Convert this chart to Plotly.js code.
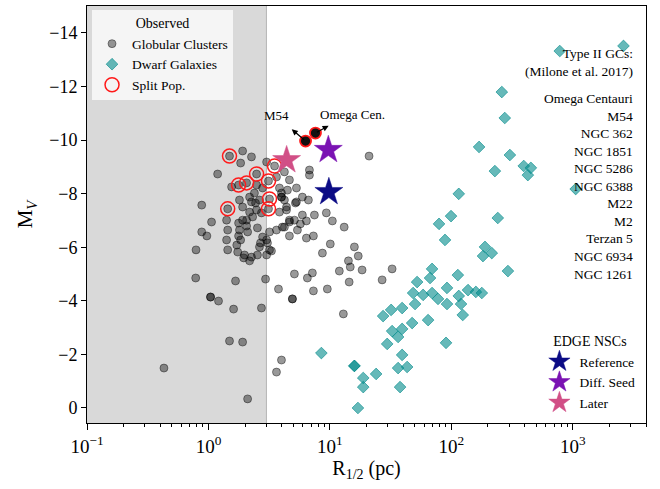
<!DOCTYPE html>
<html>
<head>
<meta charset="utf-8">
<script src="https://cdn.plot.ly/plotly-3.0.1.min.js"></script>
<style>html,body{margin:0;padding:0;background:#fff;}#chart{width:660px;height:489px;}</style>
</head>
<body>
<div id="chart"></div>
<script>
// Globular clusters (R_1/2 in pc, M_V)
const gcR = [1.49,1.91,2.26,1.84,3.01,3.50,1.19,2.49,2.06,1.77,1.55,3.12,3.18,3.12,1.44,0.88,4.22,3.63,2.49,2.79,
  2.39,2.18,2.26,2.44,2.63,1.80,1.91,2.18,2.49,2.73,2.31,2.06,1.91,1.77,1.41,1.06,2.06,2.53,1.80,1.44,
  2.10,0.88,0.97,1.77,1.84,2.79,3.01,3.18,3.63,4.22,4.64,5.10,3.84,4.39,4.22,3.99,4.47,5.30,5.30,3.84,
  4.64,5.40,0.79,1.44,1.74,1.98,2.26,2.53,3.01,3.18,2.63,1.71,1.41,2.68,3.06,3.30,1.95,2.18,0.785,1.67,
  2.95,1.04,1.04,1.21,1.61,2.73,1.49,1.91,0.43,2.10,3.77,3.99,3.63,21.0,6.78,6.78,3.99,3.99,5.93,6.65,
  5.20,4.39,9.34,7.45,5.93,4.64,6.40,5.71,10.47,13.1,4.06,4.64,6.40,7.31,10.07,15.9,8.67,17.1,14.2,14.7,
  18.4,11.95,32.5,5.10,7.17,6.52,14.4,26.9,7.31,9.52,4.91,4.91,12.9];
const gcM = [-9.40,-9.59,-9.37,-9.14,-9.18,-9.03,-8.73,-8.73,-8.40,-8.32,-8.25,-8.47,-7.80,-7.43,-7.43,-7.57,-8.81,-8.62,-8.32,-8.21,
  -8.02,-7.87,-7.69,-7.65,-7.76,-7.76,-7.50,-7.31,-7.39,-7.28,-7.13,-7.01,-7.01,-6.90,-7.01,-6.94,-6.79,-6.72,-6.64,-6.64,
  -6.57,-6.57,-6.42,-6.42,-6.27,-6.38,-6.27,-6.57,-6.64,-6.75,-6.94,-7.01,-7.31,-7.50,-7.76,-8.02,-8.13,-8.21,-7.69,-8.21,
  -8.51,-6.64,-5.90,-5.90,-5.82,-5.71,-5.63,-5.71,-5.71,-5.90,-6.01,-6.08,-6.27,-6.16,-6.16,-5.86,-5.60,-5.49,-4.85,-4.74,
  -4.81,-4.14,-4.14,-3.99,-3.69,-3.73,-2.50,-2.46,-1.49,-0.34,-4.44,-1.79,-1.34,-9.40,-8.88,-8.69,-7.87,-7.87,-7.87,-7.76,
  -7.65,-7.39,-7.28,-7.20,-7.20,-7.01,-6.98,-6.87,-6.98,-6.75,-6.75,-6.42,-6.34,-6.42,-6.12,-6.01,-5.78,-5.67,-5.49,-5.26,
  -5.15,-5.11,-5.19,-5.00,-5.04,-4.85,-4.70,-4.78,-4.37,-4.44,-4.07,-4.07,-3.51];

// Dwarf galaxies
const dgR = [780,2610,260,275,169,303,228,394,451,426,1055,115,99.3,79.1,241,88.6,189,182,215,292,
  69.3,66.7,113,52.2,92.0,48.4,58.5,69.3,77.6,115,137,159,178,50.2,92.0,120,124,27.4,31.9,39.3,
  47.5,64.3,32.5,39.3,36.4,29.6,90.3,39.3,8.50,15.9,15.9,43.2,36.4,24.0,18.8,18.8,37.8,17.0];
const dgM = [-13.32,-13.51,-11.79,-10.82,-9.74,-9.44,-8.84,-9.03,-8.96,-8.69,-8.17,-7.99,-7.16,-6.87,-7.09,-6.27,-6.01,-5.67,-5.78,-5.11,
  -5.19,-4.85,-4.96,-4.70,-4.48,-4.29,-4.22,-4.29,-4.07,-4.18,-4.40,-4.33,-4.29,-3.88,-3.88,-3.88,-3.47,-3.43,-3.66,-3.73,
  -3.17,-3.28,-2.87,-2.95,-2.65,-2.39,-2.43,-1.98,-2.05,-1.57,-1.57,-1.53,-1.49,-1.27,-1.12,-0.78,-0.78,0.0];

// Split population GCs (Type II, Milone et al. 2017)
const spR = [1.49,3.50,2.49,2.06,1.77,3.12,3.18,3.12,1.44];
const spM = [-9.40,-9.03,-8.73,-8.40,-8.32,-8.47,-7.80,-7.43,-7.43];

// Named clusters
const namedLabels = ["M54","Omega Cen."];
const namedR = [6.3, 7.6];
const namedM = [-9.96, -10.26];
const arrowHeadR = [4.85, 9.75];
const arrowHeadM = [-10.40, -10.53];

// EDGE NSCs
const nscNames = ["Reference","Diff. Seed","Later"];
const nscR = [9.8, 9.7, 4.4];
const nscM = [-8.06, -9.63, -9.25];
const nscColors = ["#0b0b85","#7a12b3","#d14f86"];

const typeIIHeader = ["Type II GCs:","(Milone et al. 2017)"];
const typeIIList = ["Omega Centauri","M54","NGC 362","NGC 1851","NGC 5286","NGC 6388","M22","M2","Terzan 5","NGC 6934","NGC 1261"];

// x tick labels
const xTickVals = [0.1, 1, 10, 100, 1000];
const xTickText = ["10<sup>\u22121</sup>","10<sup>0</sup>","10<sup>1</sup>","10<sup>2</sup>","10<sup>3</sup>"];

const FONT = "'Liberation Serif', 'Times New Roman', serif";

const traces = [
  {x: gcR, y: gcM, type: 'scatter', mode: 'markers', name: 'Globular Clusters', legend: 'legend',
   marker: {symbol: 'circle', size: 8, color: 'rgba(0,0,0,0.4)', line: {color: 'rgba(0,0,0,0.4)', width: 1}}},
  {x: dgR, y: dgM, type: 'scatter', mode: 'markers', name: 'Dwarf Galaxies', legend: 'legend',
   marker: {symbol: 'diamond', size: 9, color: 'rgba(0,139,139,0.6)', line: {color: 'rgba(0,139,139,0.6)', width: 1}}},
  {x: spR, y: spM, type: 'scatter', mode: 'markers', name: 'Split Pop.', legend: 'legend',
   marker: {symbol: 'circle', size: 14, color: 'rgba(0,0,0,0)', line: {color: '#ff1a1a', width: 1.5}}},
  {x: namedR, y: namedM, type: 'scatter', mode: 'markers', showlegend: false,
   marker: {symbol: 'circle', size: 11, color: '#111', line: {color: '#ff1a1a', width: 1.8}}}
];
nscNames.forEach((n, i) => {
  traces.push({x: [nscR[i]], y: [nscM[i]], type: 'scatter', mode: 'markers', name: n, legend: 'legend2',
    marker: {symbol: 'star', size: 21, color: nscColors[i], line: {color: nscColors[i], width: 0.5}}});
});

const xr = [-1, Math.log10(4000)];
const shadeEnd = (Math.log10(3) - xr[0]) / (xr[1] - xr[0]);

const annotations = [];
namedLabels.forEach((n, i) => {
  annotations.push({x: Math.log10(arrowHeadR[i]), y: arrowHeadM[i], xref: 'x', yref: 'y',
    axref: 'x', ayref: 'y', ax: Math.log10(namedR[i]), ay: namedM[i],
    text: '', showarrow: true, arrowhead: 2, arrowsize: 1, arrowwidth: 1.2, arrowcolor: '#000', standoff: 0, startstandoff: 0});
});
annotations.push({x: 0.560, y: -10.93, xref: 'x', yref: 'y', text: namedLabels[0], showarrow: false,
  font: {family: FONT, size: 13, color: '#000'}});
annotations.push({x: 1.184, y: -10.97, xref: 'x', yref: 'y', text: namedLabels[1], showarrow: false,
  font: {family: FONT, size: 13, color: '#000'}});
annotations.push({x: 0.98, y: 0.91, xref: 'paper', yref: 'paper', xanchor: 'right', yanchor: 'top', align: 'right',
  text: typeIIHeader.join('<br>'), showarrow: false, font: {family: FONT, size: 13.5, color: '#000'}});
annotations.push({x: 0.98, y: 0.802, xref: 'paper', yref: 'paper', xanchor: 'right', yanchor: 'top', align: 'right',
  text: typeIIList.join('<br>'), showarrow: false, font: {family: FONT, size: 13.5, color: '#000'}});

const layout = {
  width: 660, height: 489,
  margin: {l: 87, r: 14, t: 6, b: 66},
  paper_bgcolor: '#fff', plot_bgcolor: '#fff',
  font: {family: FONT, color: '#000'},
  xaxis: {type: 'log', range: xr, tickmode: 'array', tickvals: xTickVals, ticktext: xTickText,
    showgrid: false, zeroline: false,
    showline: true, mirror: true, linecolor: '#000', linewidth: 1, ticks: 'outside', ticklen: 6, tickcolor: '#000',
    minor: {tickmode: 'linear', dtick: 'D1', ticks: 'outside', ticklen: 3, tickcolor: '#000', showgrid: false},
    tickfont: {family: FONT, size: 19, color: '#000'},
    title: {text: 'R<sub>1/2</sub> (pc)', font: {family: FONT, size: 20, color: '#000'}, standoff: 2}},
  yaxis: {range: [0.56, -15], dtick: 2, tick0: 0, showgrid: false, zeroline: false,
    showline: true, mirror: true, linecolor: '#000', linewidth: 1, ticks: 'outside', ticklen: 5, tickcolor: '#000',
    tickfont: {family: FONT, size: 18, color: '#000'},
    title: {text: 'M<sub><i>V</i></sub>', font: {family: FONT, size: 21, color: '#000'}, standoff: 10}},
  shapes: [
    {type: 'rect', xref: 'paper', yref: 'paper', x0: 0, x1: shadeEnd, y0: 0, y1: 1, fillcolor: '#d9d9d9', line: {width: 0}, layer: 'below'},
    {type: 'line', xref: 'paper', yref: 'paper', x0: shadeEnd, x1: shadeEnd, y0: 0, y1: 1, line: {color: '#b5b5b5', width: 1}, layer: 'below'}
  ],
  annotations: annotations,
  legend: {x: 0.009, y: 0.99, xanchor: 'left', yanchor: 'top', bgcolor: 'rgba(255,255,255,0.72)', borderwidth: 0,
    entrywidth: 110, entrywidthmode: 'pixels',
    title: {text: 'Observed', side: 'top center', font: {family: FONT, size: 14, color: '#000'}},
    font: {family: FONT, size: 13.5, color: '#000'}, tracegroupgap: 0},
  legend2: {x: 0.99, y: 0.012, xanchor: 'right', yanchor: 'bottom', bgcolor: 'rgba(255,255,255,0)', borderwidth: 0,
    title: {text: 'EDGE NSCs', side: 'top center', font: {family: FONT, size: 14, color: '#000'}},
    font: {family: FONT, size: 13.5, color: '#000'}}
};

Plotly.newPlot('chart', traces, layout, {displayModeBar: false, staticPlot: true});
</script>
</body>
</html>
